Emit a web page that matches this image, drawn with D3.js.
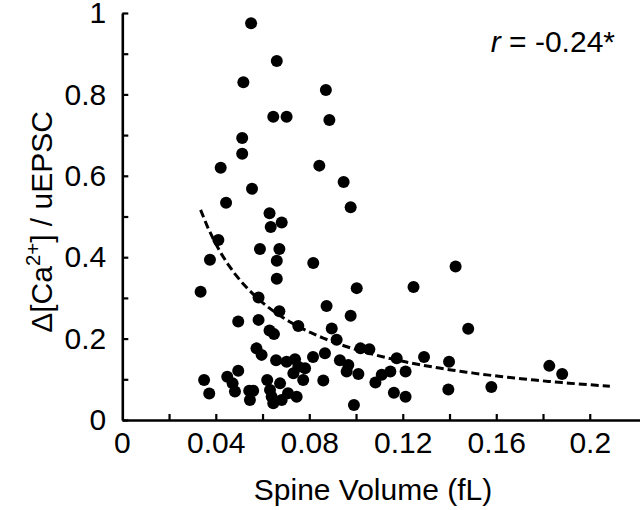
<!DOCTYPE html>
<html><head><meta charset="utf-8">
<script src="https://cdn.jsdelivr.net/npm/d3@7"></script>
<style>body{margin:0;background:#fff} svg{display:block}</style>
</head><body>
<svg id="chart" width="640" height="510"></svg>
<script>
// Spine volume (fL) of each spine
const spineVolume = [
  0.0551,0.0661,0.0518,0.0871,0.0646,0.0703,0.0886,0.0513,0.0513,0.0421,
  0.0843,0.0947,0.0555,0.0977,0.0444,0.0630,0.0635,0.0682,0.0411,0.0375,
  0.0589,0.0672,0.0661,0.0817,0.1426,0.0661,0.1246,0.0335,0.1003,0.0583,
  0.0874,0.0672,0.0977,0.0496,0.0583,0.0753,0.0896,0.1480,0.0630,0.0649,
  0.0917,0.0574,0.0596,0.1019,0.1057,0.0658,0.0703,0.0739,0.0753,0.0782,
  0.0732,0.0774,0.0816,0.0867,0.0931,0.0967,0.0960,0.1010,0.0860,0.1083,
  0.1110,0.1147,0.1174,0.1212,0.1291,0.1398,0.1162,0.1212,0.1395,0.1579,
  0.1827,0.1882,0.0991,0.0350,0.0372,0.0449,0.0472,0.0482,0.0496,0.0543,
  0.0560,0.0546,0.0620,0.0632,0.0675,0.0639,0.0646,0.0709,0.0682,0.0746
];
// Δ[Ca2+] / uEPSC of each spine
const caPerEPSC = [
  0.975,0.882,0.830,0.811,0.745,0.745,0.737,0.693,0.654,0.620,
  0.625,0.585,0.568,0.523,0.534,0.508,0.474,0.485,0.442,0.394,
  0.420,0.420,0.391,0.386,0.377,0.347,0.327,0.315,0.324,0.301,
  0.280,0.267,0.256,0.242,0.246,0.231,0.225,0.224,0.220,0.211,
  0.197,0.176,0.160,0.176,0.174,0.147,0.143,0.149,0.131,0.127,
  0.115,0.098,0.155,0.164,0.147,0.135,0.119,0.113,0.097,0.092,
  0.111,0.119,0.152,0.119,0.155,0.143,0.067,0.057,0.075,0.081,
  0.133,0.113,0.037,0.098,0.065,0.106,0.090,0.070,0.121,0.072,
  0.072,0.049,0.098,0.074,0.090,0.057,0.041,0.066,0.049,0.057
];
const xTickValues = [0.02,0.04,0.06,0.08,0.10,0.12,0.14,0.16,0.18,0.20];
const xTickLabels = {"0.04":"0.04","0.08":"0.08","0.12":"0.12","0.16":"0.16","0.2":"0.2"};
const yTickValues = [0,0.1,0.2,0.3,0.4,0.5,0.6,0.7,0.8,0.9,1.0];
const yTickLabels = {"0":"0","0.2":"0.2","0.4":"0.4","0.6":"0.6","0.8":"0.8","1":"1"};
const xZeroLabel = "0";
// fitted power-law curve y = a * x^b
const fitA = 0.0173, fitB = -1.0;
const fitRange = [0.0335, 0.2086];
const xTitle = "Spine Volume (fL)";
const rValue = "-0.24*";

const svg = d3.select("#chart");
const font = "'Liberation Sans', Arial, Helvetica, sans-serif";
const fs = 30;

const x = d3.scaleLinear().domain([0, 0.2215]).range([122.3, 640]);
const y = d3.scaleLinear().domain([0, 1]).range([420, 13]);

// x axis
const gx = svg.append("g").attr("transform", `translate(0,${y(0)})`)
  .call(d3.axisBottom(x).tickValues(xTickValues).tickSizeInner(-6).tickSizeOuter(0).tickPadding(12)
    .tickFormat(d => xTickLabels[String(+d.toFixed(2))] || ""));
gx.select(".domain").attr("stroke","#000").attr("stroke-width",2.6);
gx.selectAll(".tick line").attr("stroke","#000").attr("stroke-width",2.2);
gx.selectAll(".tick text").attr("font-family",font).attr("font-size",fs).attr("fill","#000");
gx.append("text").attr("x", x(0)).attr("y", 12).attr("dy","0.71em").attr("text-anchor","middle")
  .attr("font-family",font).attr("font-size",fs).attr("fill","#000").text(xZeroLabel);

// y axis
const gy = svg.append("g").attr("transform", `translate(${x(0)},0)`)
  .call(d3.axisLeft(y).tickValues(yTickValues).tickSizeInner(-6).tickSizeOuter(0).tickPadding(16)
    .tickFormat(d => { const k = String(+d.toFixed(1)); return yTickLabels[k] || ""; }));
gy.select(".domain").attr("stroke","#000").attr("stroke-width",2.6);
gy.selectAll(".tick line").attr("stroke","#000").attr("stroke-width",2.2);
gy.selectAll(".tick text").attr("font-family",font).attr("font-size",fs).attr("fill","#000");
// hide the duplicate "0" at the y origin only if overlapping? keep as in reference (both shown)

// fit curve
const fitPts = d3.range(0, 61).map(i => {
  const xv = fitRange[0] + (fitRange[1]-fitRange[0]) * i / 60;
  return [xv, fitA * Math.pow(xv, fitB)];
});
svg.append("path").datum(fitPts)
  .attr("d", d3.line().x(d => x(d[0])).y(d => y(d[1])).curve(d3.curveLinear))
  .attr("fill","none").attr("stroke","#000").attr("stroke-width",3).attr("stroke-dasharray","8,4");

// points
svg.append("g").selectAll("circle").data(spineVolume.map((v,i)=>[v, caPerEPSC[i]]))
  .join("circle").attr("cx", d => x(d[0])).attr("cy", d => y(d[1])).attr("r", 6).attr("fill","#000");

// x title
svg.append("text").attr("x", 373).attr("y", 500).attr("text-anchor","middle")
  .attr("font-family",font).attr("font-size",fs).attr("fill","#000").text(xTitle);

// y title
const yt = svg.append("text").attr("transform","translate(52,222) rotate(-90)").attr("text-anchor","middle")
  .attr("font-family",font).attr("font-size",fs).attr("fill","#000");
yt.append("tspan").text("Δ[Ca");
yt.append("tspan").attr("font-size", fs*0.68).attr("dy", -12).text("2+");
yt.append("tspan").attr("dy", 12).text("] / uEPSC");

// r annotation
const rt = svg.append("text").attr("x", 615).attr("y", 52).attr("text-anchor","end")
  .attr("font-family",font).attr("font-size",fs).attr("fill","#000");
rt.append("tspan").attr("font-style","italic").text("r");
rt.append("tspan").text(" = " + rValue);
</script>
</body></html>
